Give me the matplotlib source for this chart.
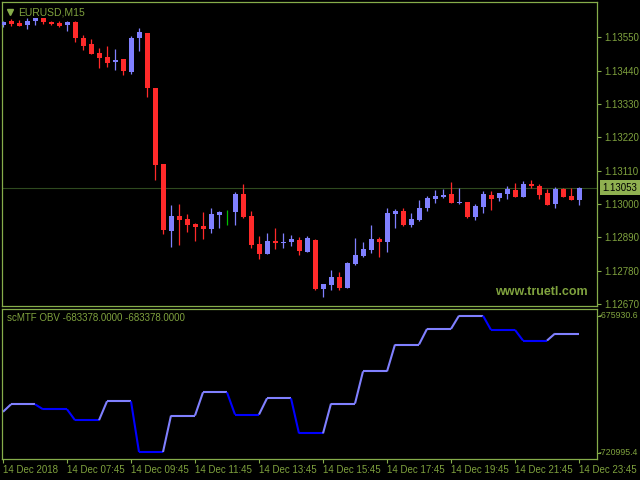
import matplotlib
matplotlib.use('Agg')
import matplotlib.pyplot as plt
import numpy as np

plt.rcParams['font.family'] = ['Liberation Sans', 'DejaVu Sans']

# EURUSD M15 candles, 14 Dec 2018 05:45 .. 23:45
opens = [1.13591, 1.13603, 1.13597, 1.13591, 1.13604, 1.13613, 1.13600, 1.13597, 1.13592, 1.13600,
         1.13548, 1.13529, 1.13499, 1.13485, 1.13469, 1.13478, 1.13436, 1.13549, 1.13564, 1.13383,
         1.13132, 1.12912, 1.12960, 1.12950, 1.12934, 1.12927, 1.12917, 1.12965, 1.12972, 1.12973,
         1.13033, 1.12960, 1.12868, 1.12835, 1.12878, 1.12872, 1.12874, 1.12881, 1.12841, 1.12881,
         1.12720, 1.12734, 1.12759, 1.12724, 1.12802, 1.12828, 1.12848, 1.12884, 1.12874, 1.12967,
         1.12977, 1.12931, 1.12947, 1.12987, 1.13016, 1.13023, 1.13033, 1.13002, 1.13006, 1.12957,
         1.12990, 1.13030, 1.13020, 1.13033, 1.13046, 1.13023, 1.13066, 1.13059, 1.13036, 1.13000,
         1.13049, 1.13026, 1.13013]
highs = [1.13604, 1.13609, 1.13607, 1.13613, 1.13613, 1.13613, 1.13605, 1.13604, 1.13604, 1.13604,
         1.13557, 1.13544, 1.13516, 1.13521, 1.13511, 1.13478, 1.13555, 1.13582, 1.13564, 1.13383,
         1.13132, 1.12997, 1.13000, 1.12967, 1.12937, 1.12973, 1.12987, 1.12977, 1.12980, 1.13039,
         1.13066, 1.12977, 1.12894, 1.12904, 1.12921, 1.12904, 1.12898, 1.12891, 1.12894, 1.12884,
         1.12736, 1.12782, 1.12775, 1.12808, 1.12888, 1.12874, 1.12931, 1.12891, 1.12987, 1.12983,
         1.12987, 1.12970, 1.13013, 1.13026, 1.13046, 1.13049, 1.13073, 1.13053, 1.13006, 1.13000,
         1.13043, 1.13043, 1.13036, 1.13059, 1.13069, 1.13076, 1.13079, 1.13066, 1.13049, 1.13056,
         1.13053, 1.13053, 1.13056]
lows = [1.13585, 1.13588, 1.13588, 1.13578, 1.13592, 1.13595, 1.13591, 1.13583, 1.13572, 1.13536,
        1.13509, 1.13494, 1.13450, 1.13453, 1.13443, 1.13427, 1.13430, 1.13506, 1.13354, 1.13079,
        1.12902, 1.12859, 1.12865, 1.12908, 1.12879, 1.12885, 1.12905, 1.12922, 1.12932, 1.12931,
        1.12954, 1.12855, 1.12818, 1.12835, 1.12851, 1.12855, 1.12861, 1.12832, 1.12841, 1.12716,
        1.12694, 1.12717, 1.12717, 1.12724, 1.12800, 1.12825, 1.12838, 1.12825, 1.12841, 1.12922,
        1.12928, 1.12925, 1.12944, 1.12977, 1.13003, 1.13020, 1.13003, 1.13000, 1.12954, 1.12947,
        1.12970, 1.12980, 1.13010, 1.13016, 1.13023, 1.13023, 1.13053, 1.13016, 1.12997, 1.12987,
        1.13023, 1.13013, 1.12997]
closes = [1.13600, 1.13595, 1.13588, 1.13604, 1.13613, 1.13601, 1.13595, 1.13588, 1.13600, 1.13549,
          1.13522, 1.13496, 1.13483, 1.13466, 1.13474, 1.13440, 1.13549, 1.13567, 1.13384, 1.13130,
          1.12915, 1.12960, 1.12948, 1.12932, 1.12924, 1.12917, 1.12967, 1.12974, 1.12972, 1.13033,
          1.12957, 1.12865, 1.12835, 1.12878, 1.12871, 1.12874, 1.12884, 1.12845, 1.12888, 1.12719,
          1.12736, 1.12760, 1.12724, 1.12805, 1.12832, 1.12851, 1.12884, 1.12874, 1.12970, 1.12977,
          1.12931, 1.12950, 1.12987, 1.13020, 1.13026, 1.13030, 1.13003, 1.13006, 1.12957, 1.12993,
          1.13033, 1.13016, 1.13036, 1.13049, 1.13023, 1.13066, 1.13059, 1.13030, 1.12997, 1.13049,
          1.13023, 1.13013, 1.13053]

# scMTF OBV, one value per hour (05:00 .. 23:00)
obv_hourly = [-706856, -704587, -706079, -709363, -703691, -718915, -707960, -701005, -707661, -702796,
              -713333, -704378, -694736, -686677, -681990, -678020, -682289, -685483, -683378]

price_ticks = [1.13550, 1.13440, 1.13330, 1.13220, 1.13110, 1.13000, 1.12890, 1.12780, 1.12670]
time_labels = ['14 Dec 2018', '14 Dec 07:45', '14 Dec 09:45', '14 Dec 11:45', '14 Dec 13:45',
               '14 Dec 15:45', '14 Dec 17:45', '14 Dec 19:45', '14 Dec 21:45', '14 Dec 23:45']
last_price = 1.13053
obv_max = -675930.6
obv_min = -720995.4

FG = '#86ad4a'
TXT = '#7fa23e'
UP = '#8080ff'
DOWN = '#ff2a2a'
DOJI = '#00c000'

fig = plt.figure(figsize=(6.4, 4.8), dpi=100, facecolor='black')
ax = fig.add_axes([2 / 640, 1 - 306 / 480, 595 / 640, 304 / 480], facecolor='black')
ax2 = fig.add_axes([2 / 640, 1 - 459 / 480, 595 / 640, 150.3 / 480], facecolor='black', sharex=ax)

n = len(opens)
x = np.arange(n)
o = np.array(opens); h = np.array(highs); l = np.array(lows); c = np.array(closes)

colors = []
for i in range(n):
    if abs(c[i] - o[i]) < 1e-6:
        colors.append(DOJI)
    elif c[i] > o[i]:
        colors.append(UP)
    else:
        colors.append(DOWN)

ax.vlines(x, l, h, colors=colors, linewidth=0.9, zorder=2)
body_bottom = np.minimum(o, c)
body_h = np.maximum(np.abs(c - o), 0.00003)
ax.bar(x, body_h, bottom=body_bottom, width=0.625, color=colors, linewidth=0, zorder=3)

ax.axhline(last_price, color='#2f4a1f', linewidth=0.8, zorder=1)

ax.set_ylim(1.1266329, 1.1366649)
ax.set_xlim(-0.125, 74.25)
ax.yaxis.tick_right()
ax.set_yticks(price_ticks)
ax.set_yticklabels(['%.5f' % p for p in price_ticks])
ax.tick_params(axis='y', colors=FG, labelcolor=TXT, length=3, width=0.8, labelsize=7, pad=2)
ax.tick_params(axis='x', bottom=False, labelbottom=False)
for s in ax.spines.values():
    s.set_color(FG)
    s.set_linewidth(0.9)

ax.annotate('%.5f' % last_price, xy=(1.0, last_price), xycoords=('axes fraction', 'data'),
            xytext=(4, 0), textcoords='offset points', va='center', ha='left',
            fontsize=7, color='black', annotation_clip=False,
            bbox=dict(boxstyle='square,pad=0.25', fc='#8fb050', ec='none'))

ax.plot([0.0137], [0.967], marker='v', color=FG, markersize=5, transform=ax.transAxes, clip_on=False)
ax.text(0.027, 0.967, 'EURUSD,M15', transform=ax.transAxes, color=TXT, fontsize=7.5, va='center')
ax.text(0.985, 0.045, 'www.truetl.com', transform=ax.transAxes, color=TXT, fontsize=9,
        ha='right', va='center', fontweight='bold')

# OBV: hourly value held over the hour's four M15 bars
obv = [obv_hourly[0]]
for v in obv_hourly[1:]:
    obv += [v] * 4
rising = True
for i in range(1, len(obv)):
    if obv[i] > obv[i - 1]:
        rising = True
    elif obv[i] < obv[i - 1]:
        rising = False
    ax2.plot([i - 1, i], [obv[i - 1], obv[i]], color=UP if rising else '#0000ff',
             linewidth=1.5, solid_capstyle='butt')

ax2.set_ylim(obv_min, obv_max)
ax2.set_yticks([])
for s in ax2.spines.values():
    s.set_color(FG)
    s.set_linewidth(0.9)
for frac, val in [(0.953, obv_max), (0.042, obv_min)]:
    ax2.annotate('%.1f' % val, xy=(1.0, frac), xycoords='axes fraction', xytext=(1.5, 0),
                 textcoords='offset points', color=TXT, fontsize=6.3, va='center', ha='left',
                 annotation_clip=False)
    ax2.plot([1.0, 1.005], [frac, frac], color=FG, linewidth=0.8, transform=ax2.transAxes, clip_on=False)
ax2.text(0.008, 0.94, 'scMTF OBV -683378.0000 -683378.0000', transform=ax2.transAxes,
         color=TXT, fontsize=7, va='center', ha='left')

ax2.set_xticks(np.arange(0, n, 8))
ax2.set_xticklabels(time_labels)
ax2.tick_params(axis='x', colors=FG, labelcolor=TXT, length=3, width=0.8, labelsize=7, pad=1.5)
for lbl in ax2.get_xticklabels():
    lbl.set_ha('left')

fig.savefig('out.png', dpi=100, facecolor='black')
